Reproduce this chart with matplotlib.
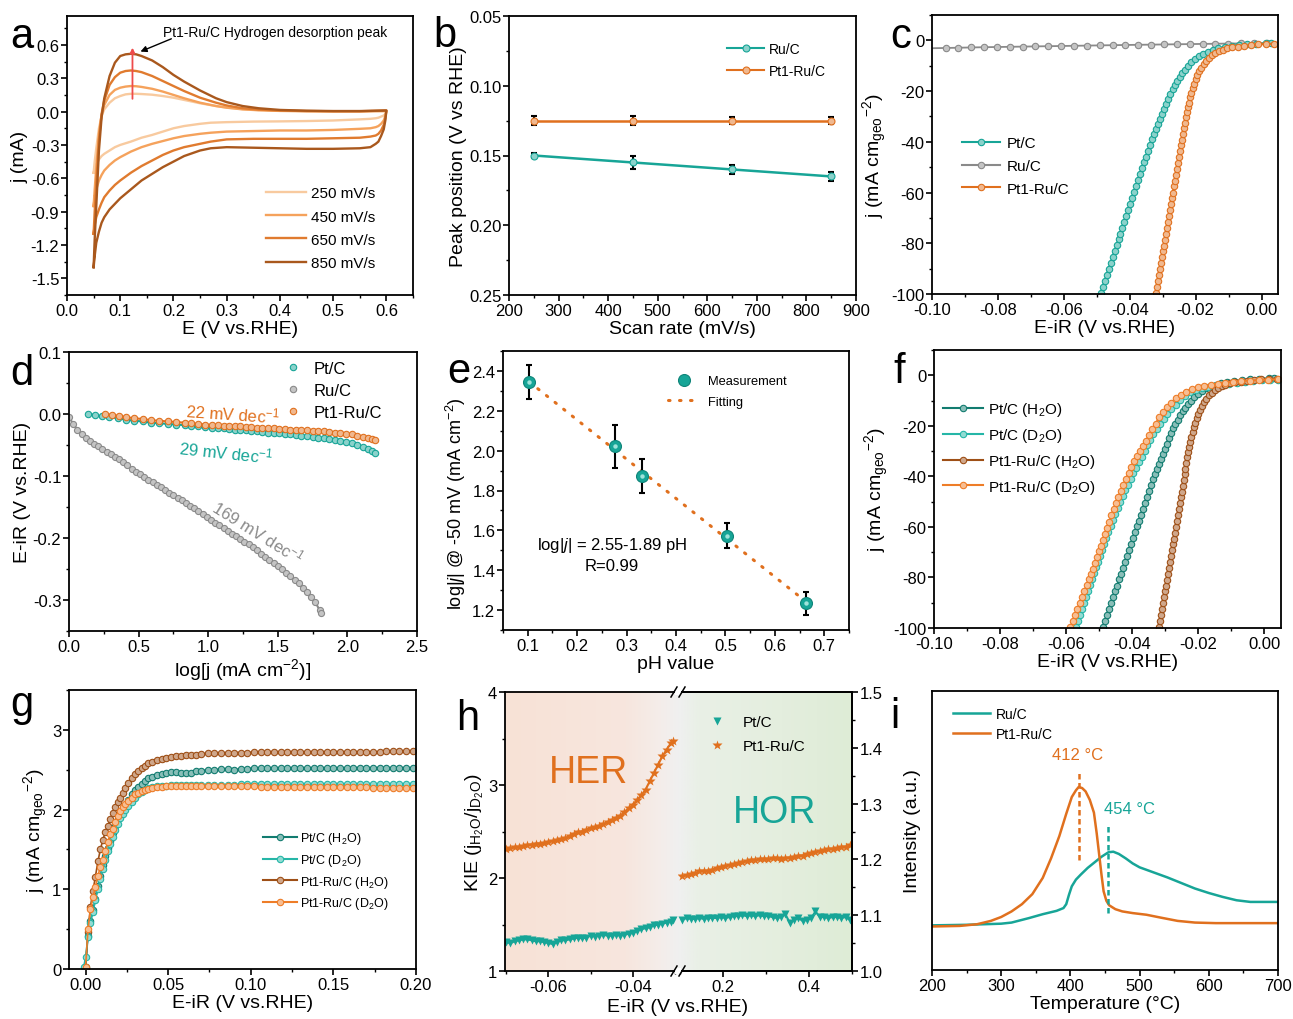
import numpy as np
import matplotlib
matplotlib.use('Agg')
import matplotlib.pyplot as plt
from matplotlib.lines import Line2D
from matplotlib.patches import Rectangle
from matplotlib.colors import to_rgb
from matplotlib.ticker import MultipleLocator, FuncFormatter, NullLocator

# ======================= DATA =======================
# (a) CV curves of Pt1-Ru/C at different scan rates
A_X_UP = [0.05, 0.052, 0.055, 0.06, 0.065, 0.07, 0.08, 0.09, 0.10, 0.11, 0.12, 0.13, 0.14,
          0.16, 0.18, 0.20, 0.22, 0.25, 0.28, 0.30, 0.33, 0.36, 0.40, 0.45, 0.50, 0.55, 0.60]
A_X_DN = [0.60, 0.598, 0.595, 0.59, 0.585, 0.58, 0.57, 0.55, 0.50, 0.45, 0.40, 0.35, 0.30, 0.27,
          0.25, 0.22, 0.20, 0.18, 0.16, 0.14, 0.12, 0.10, 0.09, 0.08, 0.07, 0.065, 0.06, 0.055, 0.052, 0.05]
A_250_UP = [-0.55, -0.45, -0.33, -0.15, -0.04, 0.02, 0.08, 0.12, 0.14, 0.155, 0.16, 0.16, 0.158, 0.152,
            0.14, 0.125, 0.105, 0.075, 0.05, 0.037, 0.022, 0.014, 0.008, 0.005, 0.003, 0.003, 0.005]
A_250_DN = [0.005, -0.02, -0.035, -0.045, -0.055, -0.06, -0.065, -0.07, -0.08, -0.085, -0.088, -0.09,
            -0.095, -0.10, -0.11, -0.13, -0.15, -0.18, -0.21, -0.235, -0.27, -0.30, -0.32, -0.35, -0.38,
            -0.40, -0.43, -0.48, -0.52, -0.55]
A_450_UP = [-0.85, -0.70, -0.50, -0.20, -0.03, 0.06, 0.15, 0.195, 0.215, 0.225, 0.23, 0.228, 0.222, 0.205,
            0.18, 0.15, 0.12, 0.08, 0.05, 0.035, 0.02, 0.012, 0.006, 0.003, 0.002, 0.002, 0.005]
A_450_DN = [0.005, -0.04, -0.08, -0.11, -0.13, -0.14, -0.15, -0.155, -0.165, -0.17, -0.17, -0.175, -0.18,
            -0.19, -0.20, -0.22, -0.24, -0.265, -0.29, -0.32, -0.36, -0.41, -0.44, -0.48, -0.53, -0.57,
            -0.62, -0.70, -0.77, -0.85]
A_650_UP = [-1.10, -0.90, -0.65, -0.25, -0.02, 0.10, 0.24, 0.31, 0.35, 0.365, 0.37, 0.365, 0.355, 0.32,
            0.275, 0.23, 0.185, 0.125, 0.08, 0.055, 0.03, 0.018, 0.01, 0.005, 0.003, 0.003, 0.01]
A_650_DN = [0.01, -0.06, -0.12, -0.17, -0.20, -0.215, -0.225, -0.235, -0.24, -0.245, -0.245, -0.245, -0.25,
            -0.27, -0.29, -0.32, -0.35, -0.39, -0.44, -0.49, -0.55, -0.62, -0.66, -0.71, -0.77, -0.82,
            -0.88, -0.95, -1.02, -1.10]
A_850_UP = [-1.40, -1.15, -0.85, -0.35, -0.05, 0.12, 0.32, 0.44, 0.50, 0.515, 0.52, 0.515, 0.50, 0.46,
            0.40, 0.33, 0.27, 0.19, 0.12, 0.085, 0.05, 0.03, 0.015, 0.008, 0.005, 0.005, 0.01]
A_850_DN = [0.01, -0.08, -0.16, -0.22, -0.27, -0.29, -0.32, -0.33, -0.335, -0.335, -0.33, -0.325, -0.32,
            -0.33, -0.35, -0.40, -0.45, -0.50, -0.56, -0.62, -0.70, -0.78, -0.83, -0.88, -0.95, -1.00,
            -1.08, -1.18, -1.30, -1.40]
A_LABELS = ['250 mV/s', '450 mV/s', '650 mV/s', '850 mV/s']
A_PEAK_E = 0.123
A_PEAK_J = [0.115, 0.575]

# (b) peak position vs scan rate
B_RATE = [250, 450, 650, 850]
B_RU = [0.150, 0.155, 0.160, 0.165]
B_RU_ERR = [0.002, 0.005, 0.003, 0.003]
B_PTRU = [0.125, 0.125, 0.125, 0.125]
B_PTRU_ERR = [0.003, 0.003, 0.0025, 0.0025]

# (c) HER polarization curves
C_PT_X = [-0.0488, -0.0482, -0.0476, -0.0470, -0.0464, -0.0458, -0.0452, -0.0446, -0.0440, -0.0434,
          -0.0428, -0.0422, -0.0416, -0.0410, -0.0404, -0.0398, -0.0392, -0.0386, -0.0380, -0.0374,
          -0.0368, -0.0362, -0.0356, -0.0350, -0.0344, -0.0338, -0.0332, -0.0326, -0.0320, -0.0314,
          -0.0308, -0.0302, -0.0296, -0.0290, -0.0284, -0.0277, -0.0270, -0.0263, -0.0256, -0.0248,
          -0.0240, -0.0232, -0.0223, -0.0213, -0.0202, -0.0190, -0.0177, -0.0163, -0.0148, -0.0131,
          -0.0112, -0.0091, -0.0068, -0.0043, -0.0016, 0.0013, 0.0030]
C_PT_Y = [-99.5, -97.2, -94.9, -92.5, -90.2, -87.8, -85.5, -83.2, -80.8, -78.5,
          -76.2, -73.8, -71.5, -69.1, -66.8, -64.5, -62.1, -59.8, -57.5, -55.1,
          -52.8, -50.5, -48.1, -45.8, -43.5, -41.2, -39.0, -37.0, -35.0, -33.0,
          -31.0, -29.0, -27.0, -25.0, -23.0, -21.0, -19.2, -17.5, -15.9, -14.3,
          -12.9, -11.5, -10.0, -8.6, -7.3, -6.2, -5.2, -4.4, -3.7, -3.1,
          -2.7, -2.3, -1.9, -1.6, -1.4, -1.2, -1.1]
C_PTRU_X = [-0.0320, -0.0317, -0.0314, -0.0311, -0.0308, -0.0305, -0.0302, -0.0299, -0.0296, -0.0293,
            -0.0290, -0.0287, -0.0284, -0.0281, -0.0278, -0.0275, -0.0272, -0.0269, -0.0266, -0.0263,
            -0.0260, -0.0257, -0.0254, -0.0251, -0.0248, -0.0245, -0.0242, -0.0239, -0.0236, -0.0233,
            -0.0230, -0.0227, -0.0224, -0.0221, -0.0217, -0.0213, -0.0209, -0.0205, -0.0200, -0.0195,
            -0.0189, -0.0183, -0.0176, -0.0168, -0.0160, -0.0151, -0.0141, -0.0130, -0.0118, -0.0104,
            -0.0089, -0.0072, -0.0053, -0.0032, -0.0010, 0.0014, 0.0038]
C_PTRU_Y = [-99.5, -97.2, -94.8, -92.5, -90.2, -87.9, -85.5, -83.2, -80.9, -78.6,
            -76.2, -73.9, -71.6, -69.3, -66.9, -64.6, -62.3, -60.0, -57.6, -55.3,
            -53.0, -50.7, -48.3, -46.0, -43.7, -41.4, -39.1, -36.9, -34.6, -32.4,
            -30.3, -28.3, -26.4, -24.6, -22.5, -20.6, -18.8, -17.1, -15.3, -13.7,
            -12.1, -10.7, -9.3, -8.0, -6.9, -5.9, -5.0, -4.3, -3.7, -3.2,
            -2.8, -2.5, -2.2, -1.9, -1.6, -1.4, -1.3]
C_RU_X = [-0.1000, -0.0959, -0.0920, -0.0881, -0.0842, -0.0803, -0.0764, -0.0725, -0.0686, -0.0647,
          -0.0608, -0.0569, -0.0530, -0.0491, -0.0452, -0.0413, -0.0374, -0.0335, -0.0296, -0.0257,
          -0.0218, -0.0179, -0.0140, -0.0101, -0.0062, -0.0023, 0.0016]
C_RU_Y = [-3.1, -3.0, -2.9, -2.8, -2.7, -2.62, -2.54, -2.46, -2.38, -2.3,
          -2.22, -2.14, -2.06, -1.98, -1.9, -1.82, -1.75, -1.68, -1.61, -1.54,
          -1.47, -1.4, -1.33, -1.26, -1.2, -1.14, -1.08]

# (d) Tafel plots
D_RU_X = [0.00, 0.03, 0.06, 0.09, 0.12, 0.15, 0.18, 0.21, 0.24, 0.27, 0.30, 0.33, 0.36, 0.39, 0.42,
          0.45, 0.48, 0.51, 0.54, 0.57, 0.60, 0.63, 0.66, 0.69, 0.72, 0.75, 0.78, 0.81, 0.84, 0.87,
          0.90, 0.93, 0.96, 0.99, 1.02, 1.05, 1.08, 1.11, 1.14, 1.17, 1.20, 1.23, 1.26, 1.29, 1.32,
          1.35, 1.38, 1.41, 1.44, 1.47, 1.50, 1.53, 1.56, 1.59, 1.62, 1.65, 1.68, 1.71, 1.74, 1.77,
          1.80, 1.81]
D_RU_Y = [-0.005, -0.016, -0.025, -0.032, -0.038, -0.043, -0.048, -0.052, -0.057, -0.061, -0.065,
          -0.069, -0.073, -0.078, -0.083, -0.088, -0.093, -0.097, -0.101, -0.106, -0.110, -0.114,
          -0.118, -0.123, -0.127, -0.131, -0.135, -0.139, -0.144, -0.148, -0.152, -0.157, -0.162,
          -0.166, -0.171, -0.175, -0.179, -0.184, -0.188, -0.193, -0.197, -0.201, -0.206, -0.210,
          -0.215, -0.220, -0.225, -0.230, -0.235, -0.240, -0.245, -0.250, -0.256, -0.261, -0.267,
          -0.273, -0.280, -0.287, -0.295, -0.304, -0.316, -0.321]
D_PT_X = [0.14, 0.19, 0.24, 0.29, 0.35, 0.41, 0.47, 0.53, 0.59, 0.65, 0.71, 0.77, 0.83, 0.88, 0.93,
          0.98, 1.03, 1.07, 1.11, 1.15, 1.19, 1.23, 1.27, 1.31, 1.35, 1.39, 1.43, 1.47, 1.51, 1.55,
          1.59, 1.63, 1.67, 1.71, 1.75, 1.79, 1.83, 1.87, 1.91, 1.95, 1.99, 2.03, 2.07, 2.11, 2.15,
          2.18, 2.20]
D_PT_Y = [0.000, -0.002, -0.004, -0.005, -0.007, -0.009, -0.011, -0.012, -0.014, -0.015, -0.016,
          -0.017, -0.018, -0.019, -0.020, -0.021, -0.022, -0.023, -0.023, -0.024, -0.025, -0.026,
          -0.026, -0.027, -0.028, -0.029, -0.030, -0.030, -0.031, -0.032, -0.033, -0.034, -0.035,
          -0.036, -0.037, -0.038, -0.039, -0.040, -0.042, -0.043, -0.045, -0.047, -0.050, -0.053,
          -0.057, -0.060, -0.063]
D_PTRU_X = [0.26, 0.31, 0.36, 0.41, 0.47, 0.53, 0.59, 0.65, 0.71, 0.77, 0.83, 0.88, 0.93, 0.98, 1.03,
            1.07, 1.11, 1.15, 1.19, 1.23, 1.27, 1.31, 1.35, 1.39, 1.43, 1.47, 1.51, 1.55, 1.59, 1.63,
            1.67, 1.71, 1.75, 1.79, 1.83, 1.87, 1.91, 1.95, 1.99, 2.03, 2.07, 2.11, 2.15, 2.18, 2.20]
D_PTRU_Y = [0.000, -0.002, -0.003, -0.005, -0.007, -0.008, -0.010, -0.011, -0.012, -0.013, -0.014,
            -0.015, -0.016, -0.017, -0.018, -0.018, -0.019, -0.019, -0.020, -0.020, -0.021, -0.021,
            -0.022, -0.022, -0.023, -0.023, -0.024, -0.024, -0.025, -0.025, -0.026, -0.026, -0.027,
            -0.027, -0.028, -0.029, -0.030, -0.031, -0.032, -0.033, -0.035, -0.037, -0.039, -0.041,
            -0.042]

# (e) pH dependence
E_PH = [0.103, 0.276, 0.331, 0.503, 0.662]
E_LOGJ = [2.345, 2.022, 1.873, 1.574, 1.233]
E_ERR = [0.086, 0.107, 0.087, 0.065, 0.058]
E_FIT_X = [0.103, 0.655]
E_FIT_Y = [2.345, 1.258]

# (f) H2O / D2O HER curves (H2O curves are those of panel c)
F_PTD_X = [-0.0570, -0.0564, -0.0558, -0.0552, -0.0546, -0.0540, -0.0534, -0.0528, -0.0522, -0.0516,
           -0.0510, -0.0504, -0.0498, -0.0492, -0.0486, -0.0479, -0.0472, -0.0465, -0.0458, -0.0451,
           -0.0444, -0.0437, -0.0429, -0.0421, -0.0413, -0.0405, -0.0397, -0.0389, -0.0381, -0.0372,
           -0.0363, -0.0354, -0.0345, -0.0336, -0.0326, -0.0316, -0.0305, -0.0294, -0.0282, -0.0269,
           -0.0255, -0.0240, -0.0224, -0.0207, -0.0189, -0.0170, -0.0150, -0.0129, -0.0107, -0.0084,
           -0.0060, -0.0035, -0.0009, 0.0018, 0.0040]
F_PTD_Y = [-99.8, -97.4, -95.0, -92.6, -90.2, -87.8, -85.4, -83.0, -80.7, -78.3,
           -76.0, -73.7, -71.4, -69.1, -66.7, -64.3, -61.9, -59.5, -57.1, -54.7,
           -52.4, -50.0, -47.7, -45.5, -43.3, -41.0, -38.8, -36.6, -34.5, -32.2,
           -29.9, -27.7, -25.5, -23.3, -21.2, -19.4, -17.4, -15.4, -13.4, -11.6,
           -9.8, -8.2, -6.8, -5.8, -5.1, -4.6, -4.1, -3.7, -3.3, -2.9,
           -2.6, -2.3, -2.0, -1.9, -1.8]
F_PTRUD_X = [-0.0587, -0.0580, -0.0573, -0.0566, -0.0559, -0.0552, -0.0545, -0.0538, -0.0531, -0.0524,
             -0.0518, -0.0512, -0.0506, -0.0500, -0.0494, -0.0488, -0.0482, -0.0476, -0.0470, -0.0463,
             -0.0456, -0.0449, -0.0442, -0.0435, -0.0427, -0.0419, -0.0411, -0.0403, -0.0395, -0.0386,
             -0.0377, -0.0368, -0.0359, -0.0349, -0.0339, -0.0329, -0.0318, -0.0307, -0.0295, -0.0282,
             -0.0268, -0.0253, -0.0237, -0.0220, -0.0202, -0.0183, -0.0163, -0.0142, -0.0120, -0.0096,
             -0.0071, -0.0045, -0.0018, 0.0010, 0.0040]
F_PTRUD_Y = [-99.8, -97.4, -95.0, -92.6, -90.1, -87.7, -85.4, -83.1, -80.8, -78.6,
             -76.6, -74.3, -72.0, -69.7, -67.4, -65.0, -62.7, -60.4, -57.9, -55.4,
             -52.9, -50.4, -48.0, -45.7, -43.3, -40.9, -38.6, -36.2, -34.0, -31.9,
             -29.8, -27.8, -25.9, -23.7, -21.4, -19.1, -16.5, -14.5, -12.6, -10.8,
             -9.1, -7.7, -6.5, -5.6, -4.8, -4.2, -3.7, -3.3, -2.9, -2.6,
             -2.3, -2.1, -1.9, -1.7, -1.6]

# (g) HOR curves
G_X = [0.000, 0.0015, 0.003, 0.0045, 0.006, 0.0075, 0.009, 0.0105, 0.012, 0.0135,
       0.015, 0.0165, 0.018, 0.0195, 0.021, 0.0225, 0.024, 0.026, 0.028, 0.030,
       0.032, 0.034, 0.036, 0.038, 0.040, 0.043, 0.046, 0.049, 0.052, 0.055,
       0.058, 0.061, 0.064, 0.067, 0.070, 0.074, 0.078, 0.082, 0.086, 0.090,
       0.094, 0.098, 0.102, 0.106, 0.110, 0.114, 0.118, 0.122, 0.126, 0.130,
       0.134, 0.138, 0.142, 0.146, 0.150, 0.154, 0.158, 0.162, 0.166, 0.170,
       0.174, 0.178, 0.182, 0.186, 0.190, 0.194, 0.198]
G_PT_H = [0.02, 0.42, 0.60, 0.74, 0.88, 1.04, 1.17, 1.30, 1.42, 1.52,
          1.61, 1.71, 1.80, 1.88, 1.95, 2.01, 2.06, 2.12, 2.19, 2.24,
          2.28, 2.32, 2.36, 2.39, 2.41, 2.43, 2.45, 2.46, 2.47, 2.47,
          2.46, 2.46, 2.465, 2.48, 2.49, 2.495, 2.50, 2.505, 2.51, 2.50,
          2.51, 2.515, 2.52, 2.52, 2.52, 2.52, 2.52, 2.52, 2.52, 2.52,
          2.52, 2.52, 2.52, 2.52, 2.52, 2.52, 2.52, 2.525, 2.525, 2.525,
          2.525, 2.525, 2.525, 2.525, 2.525, 2.525, 2.525]
G_PT_D_X0 = -0.001
G_PT_D_Y0 = 0.03
G_PT_D = [0.15, 0.40, 0.58, 0.72, 0.86, 1.00, 1.13, 1.26, 1.37, 1.48,
          1.57, 1.66, 1.74, 1.82, 1.89, 1.95, 2.00, 2.05, 2.10, 2.15,
          2.19, 2.22, 2.25, 2.27, 2.28, 2.29, 2.30, 2.30, 2.305, 2.31,
          2.31, 2.31, 2.31, 2.31, 2.31, 2.31, 2.31, 2.31, 2.31, 2.31,
          2.315, 2.315, 2.315, 2.315, 2.315, 2.315, 2.315, 2.315, 2.315, 2.315,
          2.315, 2.315, 2.315, 2.315, 2.315, 2.315, 2.315, 2.315, 2.315, 2.315,
          2.315, 2.315, 2.315, 2.315, 2.315, 2.315, 2.315]
G_PTRU_H = [0.00, 0.47, 0.78, 0.98, 1.16, 1.35, 1.50, 1.62, 1.72, 1.80,
            1.88, 1.96, 2.03, 2.09, 2.15, 2.21, 2.27, 2.33, 2.39, 2.44,
            2.48, 2.52, 2.55, 2.58, 2.60, 2.62, 2.64, 2.65, 2.66, 2.67,
            2.675, 2.68, 2.685, 2.69, 2.70, 2.705, 2.71, 2.71, 2.71, 2.715,
            2.715, 2.715, 2.72, 2.72, 2.72, 2.72, 2.72, 2.72, 2.72, 2.72,
            2.72, 2.725, 2.725, 2.725, 2.725, 2.725, 2.725, 2.725, 2.725, 2.725,
            2.725, 2.725, 2.73, 2.73, 2.73, 2.73, 2.73]
G_PTRU_D = [0.02, 0.50, 0.75, 0.90, 1.03, 1.17, 1.28, 1.37, 1.48, 1.59,
            1.69, 1.76, 1.84, 1.92, 1.98, 2.03, 2.07, 2.11, 2.15, 2.19,
            2.21, 2.23, 2.25, 2.26, 2.27, 2.28, 2.285, 2.29, 2.295, 2.295,
            2.295, 2.295, 2.29, 2.29, 2.29, 2.29, 2.29, 2.29, 2.29, 2.29,
            2.29, 2.29, 2.29, 2.285, 2.285, 2.285, 2.285, 2.285, 2.285, 2.285,
            2.28, 2.28, 2.28, 2.28, 2.28, 2.28, 2.28, 2.28, 2.28, 2.28,
            2.275, 2.275, 2.275, 2.275, 2.275, 2.275, 2.275]
FG_LABELS = [r'Pt/C (H$_2$O)', r'Pt/C (D$_2$O)', r'Pt1-Ru/C (H$_2$O)', r'Pt1-Ru/C (D$_2$O)']

# (h) kinetic isotope effect
H_L_X = [-0.070, -0.069, -0.068, -0.067, -0.066, -0.065, -0.064, -0.063, -0.062, -0.061,
         -0.060, -0.059, -0.058, -0.057, -0.056, -0.055, -0.054, -0.053, -0.052, -0.051,
         -0.050, -0.049, -0.048, -0.047, -0.046, -0.045, -0.044, -0.043, -0.042, -0.041,
         -0.040, -0.039, -0.038, -0.037, -0.036, -0.035, -0.034, -0.033, -0.032, -0.031, -0.0305]
H_L_PTRU = [2.31, 2.32, 2.33, 2.33, 2.34, 2.35, 2.36, 2.37, 2.37, 2.38,
            2.39, 2.40, 2.41, 2.42, 2.43, 2.45, 2.47, 2.49, 2.50, 2.52,
            2.54, 2.55, 2.56, 2.58, 2.60, 2.62, 2.64, 2.67, 2.71, 2.75,
            2.79, 2.84, 2.89, 2.95, 3.04, 3.13, 3.22, 3.31, 3.38, 3.45, 3.47]
H_L_PT = [1.31, 1.30, 1.32, 1.33, 1.34, 1.34, 1.33, 1.32, 1.32, 1.31,
          1.30, 1.29, 1.31, 1.33, 1.33, 1.34, 1.35, 1.36, 1.35, 1.36,
          1.38, 1.37, 1.38, 1.39, 1.38, 1.38, 1.39, 1.38, 1.39, 1.40,
          1.41, 1.43, 1.45, 1.46, 1.47, 1.49, 1.50, 1.51, 1.52, 1.53, 1.55]
H_R_X = [0.105, 0.115, 0.125, 0.135, 0.145, 0.155, 0.165, 0.175, 0.185, 0.195,
         0.205, 0.215, 0.225, 0.235, 0.245, 0.255, 0.265, 0.275, 0.285, 0.295,
         0.305, 0.315, 0.325, 0.335, 0.345, 0.355, 0.365, 0.375, 0.385, 0.395,
         0.405, 0.415, 0.425, 0.435, 0.445, 0.455, 0.465, 0.475, 0.485, 0.495]
H_R_PTRU = [2.02, 2.03, 2.04, 2.05, 2.07, 2.07, 2.08, 2.09, 2.11, 2.12,
            2.13, 2.14, 2.15, 2.16, 2.17, 2.18, 2.19, 2.19, 2.20, 2.20,
            2.20, 2.21, 2.21, 2.20, 2.21, 2.22, 2.23, 2.24, 2.24, 2.26,
            2.27, 2.28, 2.29, 2.30, 2.31, 2.31, 2.32, 2.33, 2.33, 2.35]
H_R_PT = [1.55, 1.57, 1.56, 1.56, 1.57, 1.56, 1.57, 1.57, 1.57, 1.58,
          1.57, 1.58, 1.59, 1.59, 1.60, 1.59, 1.60, 1.59, 1.60, 1.59,
          1.59, 1.58, 1.57, 1.58, 1.61, 1.52, 1.55, 1.57, 1.54, 1.55,
          1.57, 1.64, 1.58, 1.58, 1.57, 1.58, 1.58, 1.57, 1.58, 1.55]

# (i) TPD
I_T_RU = [200, 250, 300, 315, 340, 360, 380, 390, 394, 398, 402, 408, 415, 425, 435, 445, 455, 462,
          470, 480, 490, 500, 520, 540, 560, 580, 600, 620, 640, 660, 680, 700]
I_RU = [1.080, 1.081, 1.083, 1.085, 1.093, 1.100, 1.106, 1.111, 1.118, 1.135, 1.150, 1.162, 1.171,
        1.183, 1.193, 1.203, 1.211, 1.212, 1.208, 1.200, 1.191, 1.184, 1.175, 1.166, 1.156, 1.146,
        1.138, 1.131, 1.125, 1.122, 1.122, 1.122]
I_T_PTRU = [200, 240, 265, 285, 300, 315, 330, 345, 360, 372, 384, 394, 402, 408, 412, 417, 422, 428,
            434, 438, 441, 445, 448, 452, 456, 465, 475, 490, 510, 530, 555, 580, 610, 650, 700]
I_PTRU = [1.078, 1.079, 1.082, 1.088, 1.095, 1.105, 1.118, 1.136, 1.165, 1.200, 1.240, 1.280, 1.310,
          1.322, 1.328, 1.326, 1.320, 1.305, 1.282, 1.245, 1.213, 1.170, 1.141, 1.124, 1.116, 1.109,
          1.105, 1.102, 1.099, 1.094, 1.088, 1.085, 1.084, 1.084, 1.084]
I_PEAK_PTRU = 412
I_PEAK_RU = 454

# ======================= STYLE =======================
plt.rcParams.update({
    'font.family': ['Liberation Sans', 'DejaVu Sans'],
    'mathtext.fontset': 'custom',
    'mathtext.rm': 'Liberation Sans',
    'mathtext.it': 'Liberation Sans:italic',
    'mathtext.bf': 'Liberation Sans:bold',
    'mathtext.default': 'regular',
    'axes.unicode_minus': False,
    'axes.linewidth': 1.3,
    'xtick.direction': 'out', 'ytick.direction': 'out',
    'xtick.major.size': 4, 'ytick.major.size': 4,
    'xtick.minor.size': 2.5, 'ytick.minor.size': 2.5,
    'xtick.major.width': 1.2, 'ytick.major.width': 1.2,
    'xtick.minor.width': 1.0, 'ytick.minor.width': 1.0,
    'xtick.major.pad': 1.5, 'ytick.major.pad': 1.5,
    'xtick.labelsize': 12, 'ytick.labelsize': 12,
    'axes.labelsize': 14,
    'axes.labelpad': 1.5,
})

TEAL = '#17A597'
ORANGE = '#E0701E'
GRAY = '#8A8A8A'
DTEAL = '#127C70'
LTEAL = '#25B6A7'
BROWN = '#9E4F16'
LORANGE = '#EE7D28'
A_COLORS = ['#F8CA9F', '#F5A25C', '#E07B2F', '#A9581D']
RED = '#EE4B4B'

W, H = 1293, 1020
fig = plt.figure(figsize=(W / 100, H / 100), dpi=100)


def add_ax(l, t, r, b):
    return fig.add_axes([l / W, 1 - b / H, (r - l) / W, (b - t) / H])


def fpt(x, y):
    return (x / W, 1 - y / H)


def light(c, f=0.5):
    r = np.array(to_rgb(c))
    return tuple(r + (1 - r) * f)


def fmt(d):
    return FuncFormatter(lambda v, p: ('%.*f' % (d, 0.0 if abs(v) < 1e-9 else v)))


def ticks(ax, xmaj=None, xmin=None, ymaj=None, ymin=None, xd=None, yd=None):
    if xmaj:
        ax.xaxis.set_major_locator(MultipleLocator(xmaj))
    if xmin:
        ax.xaxis.set_minor_locator(MultipleLocator(xmin))
    if ymaj:
        ax.yaxis.set_major_locator(MultipleLocator(ymaj))
    if ymin:
        ax.yaxis.set_minor_locator(MultipleLocator(ymin))
    if xd is not None:
        ax.xaxis.set_major_formatter(fmt(xd))
    if yd is not None:
        ax.yaxis.set_major_formatter(fmt(yd))
    ax.tick_params(which='both', top=False, right=False)


def beads(ax, x, y, c, ms=4.6, lw=1.5, line=True, label=None, markevery=None, z=2):
    ax.plot(x, y, '-' if line else 'none', color=c, lw=lw, marker='o', ms=ms,
            mfc=light(c, 0.5), mec=c, mew=0.8, label=label, markevery=markevery, zorder=z)


def bead_handle(c, ms=4.6, line=True):
    return Line2D([], [], color=c, lw=1.5 if line else 0, ls='-' if line else 'none', marker='o',
                  ms=ms, mfc=light(c, 0.5), mec=c, mew=0.8)


def leg(ax, handles, labels, x, y, fs, hl, htp, ls):
    return ax.legend(handles, labels, loc='upper left', bbox_to_anchor=fpt(x, y),
                     bbox_transform=fig.transFigure, frameon=False, fontsize=fs,
                     handlelength=hl, handletextpad=htp, labelspacing=ls,
                     borderpad=0, borderaxespad=0, numpoints=1)


def letter(ch, x, y):
    fig.text(x / W, 1 - y / H, ch, fontsize=30, ha='left', va='baseline')


# ======================= (a) =======================
axa = add_ax(67, 17, 413, 296)
ups = [A_250_UP, A_450_UP, A_650_UP, A_850_UP]
dns = [A_250_DN, A_450_DN, A_650_DN, A_850_DN]
for up, dn, c, lab in zip(ups, dns, A_COLORS, A_LABELS):
    axa.plot(A_X_UP + A_X_DN, up + dn, color=c, lw=1.7, label=lab)
axa.annotate('', xy=(A_PEAK_E, A_PEAK_J[1]), xytext=(A_PEAK_E, A_PEAK_J[0]),
             arrowprops=dict(arrowstyle='-|>', color=RED, lw=1.3, mutation_scale=7,
                             shrinkA=0, shrinkB=0))
axa.annotate('', xy=(0.138, 0.54), xytext=(0.196, 0.655),
             arrowprops=dict(arrowstyle='-|>', color='k', lw=1.0, mutation_scale=9,
                             shrinkA=0, shrinkB=0))
axa.text(0.18, 0.715, 'Pt1-Ru/C Hydrogen desorption peak', fontsize=10, ha='left', va='center')
axa.set_xlim(0, 0.65)
axa.set_ylim(-1.65, 0.86)
ticks(axa, 0.1, 0.05, 0.3, 0.15, 1, 1)
axa.set_xlabel('E (V vs.RHE)')
axa.set_ylabel('j (mA)')
leg(axa, *axa.get_legend_handles_labels(), 266, 187.5, 11, 2.6, 0.35, 0.6)
letter('a', 10, 48)

# ======================= (b) =======================
axb = add_ax(509, 17, 856, 296)
for yv, ye, c in [(B_RU, B_RU_ERR, TEAL), (B_PTRU, B_PTRU_ERR, ORANGE)]:
    axb.errorbar(B_RATE, yv, yerr=ye, fmt='none', ecolor='k', elinewidth=1.5, capsize=2.5,
                 capthick=1.5, zorder=2)
    beads(axb, B_RATE, yv, c, ms=5, lw=1.8, z=3)
axb.set_xlim(200, 900)
axb.set_ylim(0.25, 0.05)
ticks(axb, 100, 50, 0.05, 0.025, 0, 2)
axb.set_xlabel('Scan rate (mV/s)')
axb.set_ylabel('Peak position (V vs RHE)')
leg(axb, [bead_handle(TEAL, 5), bead_handle(ORANGE, 5)], ['Ru/C', 'Pt1-Ru/C'],
    727, 43, 10, 2.7, 0.3, 0.55)
letter('b', 433, 47)

# ======================= (c) =======================
axc = add_ax(932, 16, 1278, 295)
beads(axc, C_RU_X, C_RU_Y, GRAY, lw=1.3, markevery=slice(1, None))
beads(axc, C_PT_X, C_PT_Y, TEAL)
beads(axc, C_PTRU_X, C_PTRU_Y, ORANGE)
axc.set_xlim(-0.1, 0.005)
axc.set_ylim(-100, 10)
ticks(axc, 0.02, 0.01, 20, 10, 2, 0)
axc.set_xlabel('E-iR (V vs.RHE)')
axc.set_ylabel(r'j (mA cm$_{geo}$$^{-2}$)')
leg(axc, [bead_handle(TEAL), bead_handle(GRAY), bead_handle(ORANGE)], ['Pt/C', 'Ru/C', 'Pt1-Ru/C'],
    962, 137.5, 11, 2.5, 0.4, 0.56)
letter('c', 890, 48)

# ======================= (d) =======================
axd = add_ax(69, 353, 417, 632)
beads(axd, D_RU_X, D_RU_Y, GRAY, ms=4.4, line=False)
beads(axd, D_PT_X, D_PT_Y, TEAL, ms=4.6, line=False)
beads(axd, D_PTRU_X, D_PTRU_Y, ORANGE, ms=4.6, line=False)
axd.set_xlim(0, 2.5)
axd.set_ylim(-0.35, 0.1)
ticks(axd, 0.5, 0.25, 0.1, 0.05, 1, 1)
axd.set_xlabel(r'log[j (mA cm$^{-2}$)]')
axd.set_ylabel('E-iR (V vs.RHE)')
axd.text(0.84, 0.008, r'22 mV dec$^{-1}$', color=ORANGE, fontsize=12, rotation=-4,
         ha='left', va='center', rotation_mode='anchor')
axd.text(0.79, -0.052, r'29 mV dec$^{-1}$', color=TEAL, fontsize=12, rotation=-6,
         ha='left', va='center', rotation_mode='anchor')
axd.text(1.36, -0.19, r'169 mV dec$^{-1}$', color=GRAY, fontsize=12, rotation=-32,
         ha='center', va='center', rotation_mode='anchor')
leg(axd, [bead_handle(TEAL, 4.6, False), bead_handle(GRAY, 4.6, False), bead_handle(ORANGE, 4.6, False)],
    ['Pt/C', 'Ru/C', 'Pt1-Ru/C'], 285, 362, 12, 1.0, 0.7, 0.42)
letter('d', 10, 385)

# ======================= (e) =======================
axe = add_ax(503, 352, 849, 631)
axe.plot(E_FIT_X, E_FIT_Y, color=ORANGE, lw=2.2, ls=(0, (0.5, 3.1)), dash_capstyle='round', zorder=2)
axe.errorbar(E_PH, E_LOGJ, yerr=E_ERR, fmt='none', ecolor='k', elinewidth=1.5, capsize=2.3,
             capthick=1.5, zorder=3)
axe.plot(E_PH, E_LOGJ, 'none', marker='o', ms=8.6, mfc=TEAL, mec='#0E8478', mew=0.8, zorder=4)
axe.plot(E_PH, E_LOGJ, 'none', marker='o', ms=3.2, mfc='#9FE3DA', mec='none', zorder=5)
axe.set_xlim(0.05, 0.75)
axe.set_ylim(1.1, 2.5)
ticks(axe, 0.1, 0.05, 0.2, 0.1, 1, 1)
axe.set_xlabel('pH value')
axe.set_ylabel(r'log|$\mathit{j}$| @ -50 mV (mA cm$^{-2}$)', fontsize=13)
axe.yaxis.set_label_coords(-0.10, 0.455)
axe.text(0.27, 1.527, r'log|$\mathit{j}$| = 2.55-1.89 pH', fontsize=12, ha='center', va='center')
axe.text(0.27, 1.426, 'R=0.99', fontsize=12, ha='center', va='center')
h_meas = Line2D([], [], ls='none', marker='o', ms=8.6, mfc=TEAL, mec='#0E8478', mew=0.8)
h_fit = Line2D([], [], color=ORANGE, lw=2.2, ls=(0, (0.5, 3.1)), dash_capstyle='round')
leg(axe, [h_meas, h_fit], ['Measurement', 'Fitting'], 668, 376, 9.3, 2.5, 0.6, 0.68)
letter('e', 447, 383)

# ======================= (f) =======================
axf = add_ax(934, 351, 1281, 629)
beads(axf, C_PT_X, C_PT_Y, DTEAL)
beads(axf, F_PTD_X, F_PTD_Y, LTEAL)
beads(axf, C_PTRU_X, C_PTRU_Y, BROWN)
beads(axf, F_PTRUD_X, F_PTRUD_Y, LORANGE)
axf.set_xlim(-0.1, 0.005)
axf.set_ylim(-100, 10)
ticks(axf, 0.02, 0.01, 20, 10, 2, 0)
axf.set_xlabel('E-iR (V vs.RHE)')
axf.set_ylabel(r'j (mA cm$_{geo}$$^{-2}$)')
leg(axf, [bead_handle(c) for c in (DTEAL, LTEAL, BROWN, LORANGE)], FG_LABELS,
    943, 401, 11, 2.6, 0.33, 0.52)
letter('f', 893, 383)

# ======================= (g) =======================
axg = add_ax(69, 691, 416, 970)
beads(axg, G_X, G_PTRU_H, BROWN, ms=4.6, lw=1.2)
beads(axg, G_X, G_PT_H, DTEAL, ms=4.6, lw=1.2)
beads(axg, [G_PT_D_X0] + G_X, [G_PT_D_Y0] + G_PT_D, LTEAL, ms=4.6, lw=1.2)
beads(axg, G_X, G_PTRU_D, LORANGE, ms=4.6, lw=1.2)
axg.set_xlim(-0.01, 0.2)
axg.set_ylim(0, 3.5)
ticks(axg, 0.05, 0.025, 1, 0.5, 2, 0)
axg.set_xlabel('E-iR (V vs.RHE)')
axg.set_ylabel(r'j (mA cm$_{geo}$$^{-2}$)')
leg(axg, [bead_handle(c, 4.6) for c in (DTEAL, LTEAL, BROWN, LORANGE)], FG_LABELS,
    263, 831.5, 9, 2.7, 0.25, 0.45)
letter('g', 10, 716)

# ======================= (h) =======================
hbg = add_ax(505, 693, 852, 972)
stops = [0.0, 0.35, 0.45, 0.5, 0.56, 0.8, 1.0]
rgbs = [(248, 226, 214), (247, 230, 222), (244, 237, 234), (240, 240, 240), (233, 240, 230),
        (228, 238, 222), (222, 236, 214)]
gx = np.linspace(0, 1, 400)
grad = np.stack([np.interp(gx, stops, [c[k] for c in rgbs]) for k in range(3)], axis=-1) / 255.0
hbg.imshow(grad[None, :, :], aspect='auto', extent=[0, 1, 0, 1])
hbg.axis('off')

hl = add_ax(505, 693, 678, 972)
hr = add_ax(678, 693, 852, 972)
for ax in (hl, hr):
    ax.patch.set_alpha(0)
TRI_MS, STAR_MS = 5.8, 7.5
hl.plot(H_L_X, H_L_PT, 'none', marker='v', ms=TRI_MS, color=TEAL, mec='none')
hl.plot(H_L_X, H_L_PTRU, 'none', marker='*', ms=STAR_MS, color=ORANGE, mec='none')
hr.plot(H_R_X, H_R_PT, 'none', marker='v', ms=TRI_MS, color=TEAL, mec='none')
hr.plot(H_R_X, H_R_PTRU, 'none', marker='*', ms=STAR_MS, color=ORANGE, mec='none')
hl.set_xlim(-0.0703, -0.0293)
hr.set_xlim(0.095, 0.5)
for ax in (hl, hr):
    ax.set_ylim(1, 4)
hl.spines['right'].set_visible(False)
hr.spines['left'].set_visible(False)
ticks(hl, 0.02, 0.01, 1, 0.5, 2, 0)
ticks(hr, 0.2, 0.1, 1, 0.5, 1, 0)
hr2 = hr.twinx()
hr2.set_ylim(1.0, 1.5)
hr2.spines['left'].set_visible(False)
hr2.yaxis.set_major_locator(MultipleLocator(0.1))
hr2.yaxis.set_minor_locator(MultipleLocator(0.05))
hr2.yaxis.set_major_formatter(fmt(1))
hr.tick_params(which='both', left=False, labelleft=False, right=False, labelright=False)
hl.set_ylabel(r'KIE (j$_{H_2O}$/j$_{D_2O}$)')
fig.text(678 / W, 1 - 1008 / H, 'E-iR (V vs.RHE)', fontsize=14, ha='center', va='center')
hl.text(-0.0506, 3.14, 'HER', color=ORANGE, fontsize=27, ha='center', va='center')
hr.text(0.3206, 2.71, 'HOR', color=TEAL, fontsize=27, ha='center', va='center')
for yb in (693, 972):
    fig.add_artist(Rectangle(fpt(675, yb + 3), 6 / W, 6 / H, transform=fig.transFigure,
                             facecolor='white', edgecolor='none', zorder=10))
    for xo in (671, 679):
        fig.add_artist(Line2D([xo / W, (xo + 6) / W], [1 - (yb + 5) / H, 1 - (yb - 5) / H],
                              transform=fig.transFigure, color='k', lw=1.1, zorder=11))
h_pt = Line2D([], [], ls='none', marker='v', ms=TRI_MS, color=TEAL, mec='none')
h_ptru = Line2D([], [], ls='none', marker='*', ms=STAR_MS, color=ORANGE, mec='none')
leg(hr2, [h_pt, h_ptru], ['Pt/C', 'Pt1-Ru/C'], 709, 716, 11, 1.0, 1.2, 0.65)
letter('h', 456, 730)

# ======================= (i) =======================
axi = add_ax(932, 692, 1278, 971)
axi.plot(I_T_RU, I_RU, color=TEAL, lw=1.8, label='Ru/C')
axi.plot(I_T_PTRU, I_PTRU, color=ORANGE, lw=1.8, label='Pt1-Ru/C')
axi.plot([I_PEAK_PTRU, I_PEAK_PTRU], [1.198, 1.356], color=ORANGE, lw=1.8, ls=(0, (2.2, 1.4)))
axi.plot([I_PEAK_RU, I_PEAK_RU], [1.102, 1.263], color=TEAL, lw=1.8, ls=(0, (2.2, 1.4)))
axi.text(411, 1.386, '%d °C' % I_PEAK_PTRU, color=ORANGE, fontsize=12, ha='center', va='center')
axi.text(486, 1.29, '%d °C' % I_PEAK_RU, color=TEAL, fontsize=12, ha='center', va='center')
axi.set_xlim(200, 700)
axi.set_ylim(1.0, 1.5)
ticks(axi, 100, 50, None, None, 0, None)
axi.yaxis.set_major_locator(NullLocator())
axi.yaxis.set_minor_locator(NullLocator())
axi.set_xlabel('Temperature (°C)')
axi.set_ylabel('Intensity (a.u.)', labelpad=8)
leg(axi, *axi.get_legend_handles_labels(), 953, 708, 10, 2.66, 0.43, 0.4)
letter('i', 890, 728)

fig.savefig('out.png', dpi=100)
